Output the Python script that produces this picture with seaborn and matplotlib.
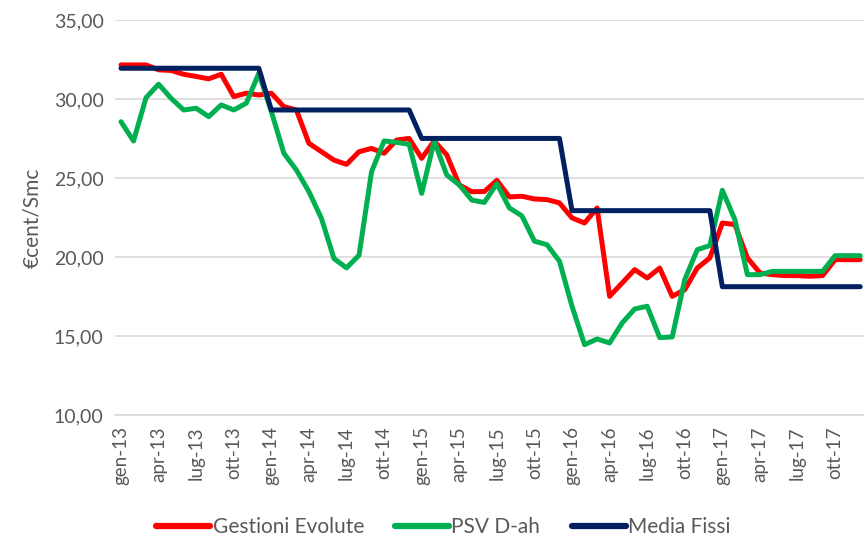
import numpy as np
import pandas as pd
import matplotlib
matplotlib.use("Agg")
import matplotlib.pyplot as plt
import seaborn as sns
from matplotlib.ticker import FixedLocator, FuncFormatter

# monthly data, gen-13 .. dic-17
mesi = ["gen", "feb", "mar", "apr", "mag", "giu", "lug", "ago", "set", "ott", "nov", "dic"]
anni = ["13", "14", "15", "16", "17"]
labels = [f"{m}-{a}" for a in anni for m in mesi]

gestioni_evolute = [
    32.15, 32.15, 32.15, 31.84, 31.80, 31.56, 31.42, 31.27, 31.56, 30.15, 30.36, 30.25,
    30.36, 29.51, 29.30, 27.19, 26.66, 26.13, 25.86, 26.66, 26.87, 26.56, 27.40, 27.50,
    26.24, 27.34, 26.46, 24.56, 24.13, 24.14, 24.85, 23.80, 23.84, 23.67, 23.63, 23.42,
    22.47, 22.15, 23.10, 17.51, 18.35, 19.20, 18.67, 19.30, 17.51, 17.93, 19.30, 19.94,
    22.15, 22.05, 19.94, 18.99, 18.88, 18.82, 18.82, 18.78, 18.82, 19.83, 19.83, 19.83,
]
psv_dah = [
    28.56, 27.34, 30.08, 30.93, 30.04, 29.30, 29.41, 28.88, 29.62, 29.30, 29.73, 31.62,
    29.20, 26.56, 25.50, 24.13, 22.44, 19.90, 19.31, 20.11, 25.40, 27.34, 27.25, 27.13,
    24.02, 27.34, 25.19, 24.56, 23.60, 23.45, 24.64, 23.10, 22.60, 21.00, 20.78, 19.73,
    16.88, 14.45, 14.81, 14.56, 15.82, 16.71, 16.88, 14.90, 14.94, 18.57, 20.46, 20.72,
    24.22, 22.36, 18.88, 18.88, 19.09, 19.09, 19.09, 19.09, 19.09, 20.08, 20.08, 20.08,
]
media_fissi = [31.94] * 12 + [29.30] * 12 + [27.50] * 12 + [22.93] * 12 + [18.12] * 12

series = {
    "Gestioni Evolute": gestioni_evolute,
    "PSV D-ah": psv_dah,
    "Media Fissi": media_fissi,
}
colors = {"Gestioni Evolute": "#FF0000", "PSV D-ah": "#00B050", "Media Fissi": "#002060"}

df = pd.DataFrame(series)
df["mese"] = np.arange(len(labels))
long_df = df.melt(id_vars="mese", var_name="serie", value_name="valore")

sns.set_theme(style="white")
plt.rcParams["font.family"] = ["Lato", "DejaVu Sans"]

fig = plt.figure(figsize=(8.64, 5.45), dpi=100)
ax = fig.add_axes([0.1328, 0.2385, 0.870, 0.725])

sns.lineplot(
    data=long_df, x="mese", y="valore", hue="serie",
    palette=colors, linewidth=3.6, ax=ax, legend=False, sort=False,
)

ax.set_xlim(-0.5, 59.5)
ax.set_ylim(10, 35)
ax.set_yticks(np.arange(10, 36, 5))
ax.yaxis.set_major_formatter(FuncFormatter(lambda v, p: f"{v:.2f}".replace(".", ",")))
ax.grid(axis="y", color="#D9D9D9", linewidth=1.2)
ax.set_axisbelow(True)

ax.set_xticks(np.arange(0, 60, 3))
ax.set_xticklabels(labels[::3], rotation=90)
ax.xaxis.set_minor_locator(FixedLocator(np.arange(-0.5, 60, 3)))
ax.tick_params(axis="x", which="major", length=0, pad=8, labelsize=13.5, labelcolor="#595959")
ax.tick_params(axis="x", which="minor", length=5, color="#D9D9D9", width=1.2)
ax.tick_params(axis="y", length=0, pad=8, labelsize=14, labelcolor="#595959")

for s in ["top", "right", "left"]:
    ax.spines[s].set_visible(False)
ax.spines["bottom"].set_color("#D9D9D9")
ax.spines["bottom"].set_linewidth(1.2)

ax.set_xlabel("")
ax.set_ylabel("€cent/Smc", fontsize=15, color="#595959", labelpad=8)

handles = [plt.Line2D([], [], color=colors[k], linewidth=4.5) for k in series]
fig.legend(
    handles, list(series.keys()), loc="center", bbox_to_anchor=(0.513, 0.033),
    ncol=3, frameon=False, fontsize=15, handlelength=2.6, handletextpad=0.1,
    columnspacing=1.5, labelcolor="#595959",
)

fig.savefig("out.png", dpi=100)
